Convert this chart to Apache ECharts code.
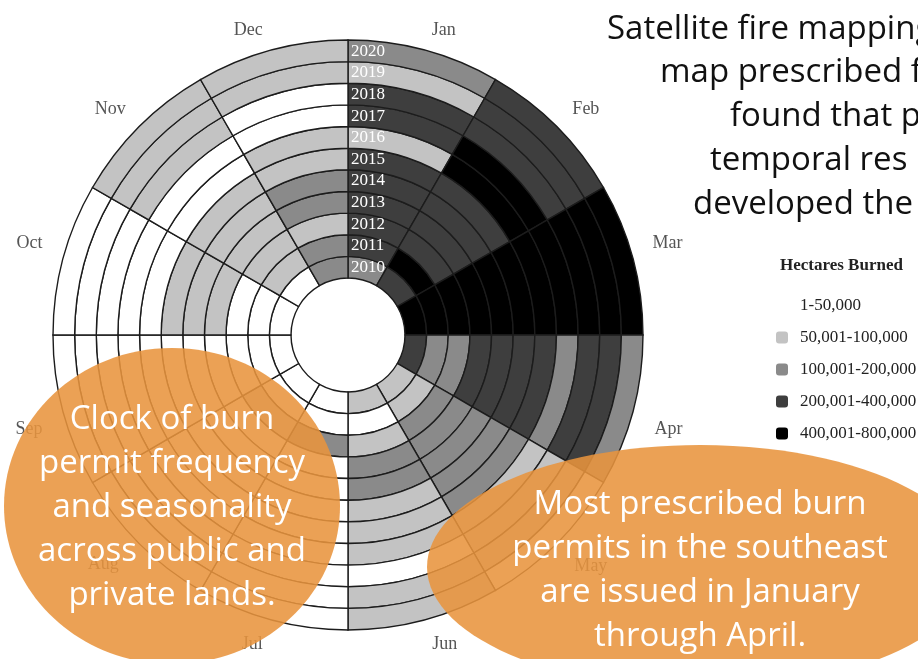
<!DOCTYPE html>
<html><head><meta charset="utf-8">
<script src="https://cdn.jsdelivr.net/npm/echarts@6/dist/echarts.min.js"></script>
<style>html,body{margin:0;padding:0;background:#fff}#c{width:918px;height:659px}</style>
</head><body><div id="c"></div>
<script>
const months = ['Jan','Feb','Mar','Apr','May','Jun','Jul','Aug','Sep','Oct','Nov','Dec'];
const years = ['2010','2011','2012','2013','2014','2015','2016','2017','2018','2019','2020'];
// hectare class (0..4) per month, years 2010 -> 2020 (inner -> outer ring)
const jan = [2,3,3,3,3,3,1,3,3,1,2];
const feb = [3,4,3,3,3,3,4,4,3,3,3];
const mar = [4,4,4,4,4,4,4,4,4,4,4];
const apr = [3,2,2,3,3,3,3,2,3,3,2];
const may = [1,1,2,2,2,2,2,1,1,1,0];
const jun = [1,0,1,2,2,1,1,1,0,1,1];
const jul = [0,0,2,0,0,0,0,0,0,0,0];
const aug = [0,0,1,0,0,0,0,0,0,0,0];
const sep = [0,0,0,0,0,0,0,0,0,0,0];
const oct = [0,0,0,1,1,1,0,0,0,0,0];
const nov = [0,1,1,1,1,1,0,0,1,1,1];
const dec = [2,2,1,2,2,1,1,0,0,1,1];
const classLabels = ['1-50,000','50,001-100,000','100,001-200,000','200,001-400,000','400,001-800,000'];
const classColors = ['#ffffff','#c3c3c3','#8a8a8a','#3e3e3e','#000000'];

const monthGrid = [jan,feb,mar,apr,may,jun,jul,aug,sep,oct,nov,dec];

const series = years.map((y,k)=>({
  type:'bar', coordinateSystem:'polar', stack:'rings', name:y,
  barCategoryGap:'0%',
  dimensions:['r','a','cls'],
  encode:{radius:0, angle:1},
  data: monthGrid.map((m,i)=>[1,i,m[k]]),
  itemStyle:{borderColor:'#1c1c1c', borderWidth:1.4},
  emphasis:{disabled:true},
  silent:true
}));

const serif = '"Liberation Serif", "DejaVu Serif", serif';
const sans = '"Open Sans", "Noto Sans", sans-serif';
const orange = 'rgba(232,148,62,0.88)';

// per-label nudges [top, right, bottom, left] to follow the slightly oval original
const labelPad = [[0,0,0,33],[0,0,0,8],[0,0,25,9],[31,0,0,11],[6,0,0,10],[5,0,0,35],
                  [5,33,0,0],[4,13,0,0],[31,10,0,0],[0,10,25,0],[0,6,0,0],[0,41,0,0]];
const rich = {};
labelPad.forEach((p,i)=>{ rich['m'+i] = {padding:p, color:'#555', fontFamily:serif, fontSize:18}; });

const chart = echarts.init(document.getElementById('c'));
chart.setOption({
  animation:false,
  backgroundColor:'#ffffff',
  polar:{center:[348,335], radius:[57,295]},
  angleAxis:{
    type:'category', data:months, startAngle:90, clockwise:true, z:10,
    axisLine:{show:false}, axisTick:{show:false}, splitLine:{show:false},
    axisLabel:{margin:11, color:'#555', fontFamily:serif, fontSize:18,
      formatter:(v,i)=>'{m'+i+'|'+v+'}', rich:rich}
  },
  radiusAxis:{
    type:'value', min:0, max:11, interval:1, z:10,
    axisLine:{show:false}, axisTick:{show:false}, splitLine:{show:false},
    axisLabel:{
      formatter:(v)=> (v < years.length ? years[v] : ''),
      margin:-3, align:'left', verticalAlign:'bottom', lineHeight:21,
      color:'#ffffff', fontFamily:serif, fontSize:17
    }
  },
  visualMap:{
    type:'piecewise', dimension:2, seriesIndex:years.map((_,i)=>i),
    pieces:classLabels.map((l,i)=>({value:i, label:l, color:classColors[i]})),
    orient:'vertical', inverse:true, left:761, top:282, align:'left',
    itemWidth:12, itemHeight:12, itemGap:15, textGap:12,
    selectedMode:false, hoverLink:false,
    textStyle:{color:'#222', fontFamily:serif, fontSize:17}
  },
  series:series,
  graphic:[
    {type:'text', x:780, y:266, z:100, style:{text:'Hectares Burned', fill:'#222', font:'bold 17px '+serif, align:'left', verticalAlign:'middle'}},
    {type:'text', x:607, y:30, z:100, style:{text:'Satellite fire mapping', fill:'#111', font:'33px '+sans, align:'left', verticalAlign:'middle'}},
    {type:'text', x:660, y:73, z:100, style:{text:'map prescribed f', fill:'#111', font:'33px '+sans, align:'left', verticalAlign:'middle'}},
    {type:'text', x:730, y:117, z:100, style:{text:'found that p', fill:'#111', font:'33px '+sans, align:'left', verticalAlign:'middle'}},
    {type:'text', x:710, y:161, z:100, style:{text:'temporal res', fill:'#111', font:'33px '+sans, align:'left', verticalAlign:'middle'}},
    {type:'text', x:693, y:205, z:100, style:{text:'developed the', fill:'#111', font:'33px '+sans, align:'left', verticalAlign:'middle'}},
    {type:'ellipse', z:110, silent:true, shape:{cx:172, cy:506, rx:168, ry:158}, style:{fill:orange}},
    {type:'ellipse', z:110, silent:true, shape:{cx:700, cy:567, rx:273, ry:122}, style:{fill:orange}},
    {type:'text', x:172, y:508, z:120, style:{text:'Clock of burn\npermit frequency\nand seasonality\nacross public and\nprivate lands.', fill:'#fff', font:'33px '+sans, align:'center', verticalAlign:'middle', lineHeight:44}},
    {type:'text', x:700, y:571, z:120, style:{text:'Most prescribed burn\npermits in the southeast\nare issued in January\nthrough April.', fill:'#fff', font:'33px '+sans, align:'center', verticalAlign:'middle', lineHeight:44}}
  ]
});
</script></body></html>
